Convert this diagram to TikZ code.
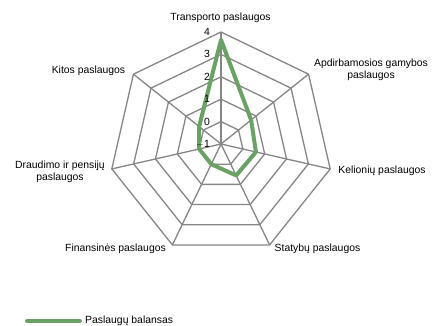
\documentclass[tikz,border=0pt]{standalone}
\usepackage{fontspec}
\setmainfont{Liberation Sans}
\definecolor{gridgray}{HTML}{868686}
\definecolor{seriesgreen}{HTML}{6AA265}
\begin{document}
\begin{tikzpicture}[x=1pt,y=-1pt,
  gridline/.style={draw=gridgray,line width=1.3pt},
  series/.style={draw=seriesgreen,line width=4pt,line join=round},
  lbl/.style={font=\fontsize{10.4}{11.5}\selectfont,inner sep=0pt,align=center},
  ticklbl/.style={font=\fontsize{10.4}{11}\selectfont,inner sep=0pt,anchor=east}]
\useasboundingbox[fill=white] (0,0) rectangle (433,326);
\def\cx{221}\def\cy{144}\def\R{112}
\coordinate (c) at (\cx,\cy);
% rings
\foreach \j in {1,...,5}{
  \foreach \k in {0,...,6}{
    \coordinate (r\j-\k) at ({\cx+\R*\j/5*cos(90-\k*360/7)},{\cy-\R*\j/5*sin(90-\k*360/7)});
  }
  \draw[gridline] (r\j-0)--(r\j-1)--(r\j-2)--(r\j-3)--(r\j-4)--(r\j-5)--(r\j-6)--cycle;
}
% spokes
\foreach \k in {0,...,6}{ \draw[gridline] (c) -- (r5-\k); }
% data
\def\u{22.4}
\foreach \k/\v in {0/3.65,1/0.72,2/0.6,3/0.56,4/0.0,5/0.0,6/0.25}{
  \coordinate (d\k) at ({\cx+(\v+1)*\u*cos(90-\k*360/7)},{\cy-(\v+1)*\u*sin(90-\k*360/7)});
}
\draw[series] (d0)--(d1)--(d2)--(d3)--(d4)--(d5)--(d6)--cycle;
% tick labels
\foreach \t [count=\i from 0] in {$-$1,0,1,2,3,4}{
  \node[ticklbl] (t\i) at (210,{\cy-\R*\i/5}) {\t};
}
% axis labels
\node[lbl] (l0) at (220.5,18) {Transporto paslaugos};
\node[lbl] (l1) at (371,70) {Apdirbamosios gamybos\\paslaugos};
\node[lbl] (l2) at (382,171) {Kelionių paslaugos};
\node[lbl] (l3) at (317.5,249) {Statybų paslaugos};
\node[lbl] (l4) at (115.5,249) {Finansinės paslaugos};
\node[lbl] (l5) at (60,172) {Draudimo ir pensijų\\paslaugos};
\node[lbl] (l6) at (88.5,71) {Kitos paslaugos};
% legend
\coordinate (la) at (27,321);
\coordinate (lb) at (80,321);
\draw[series,line cap=round] (la) -- (lb);
\node[lbl,anchor=west] (leg) at (85,320.5) {Paslaugų balansas};
\end{tikzpicture}
\end{document}
